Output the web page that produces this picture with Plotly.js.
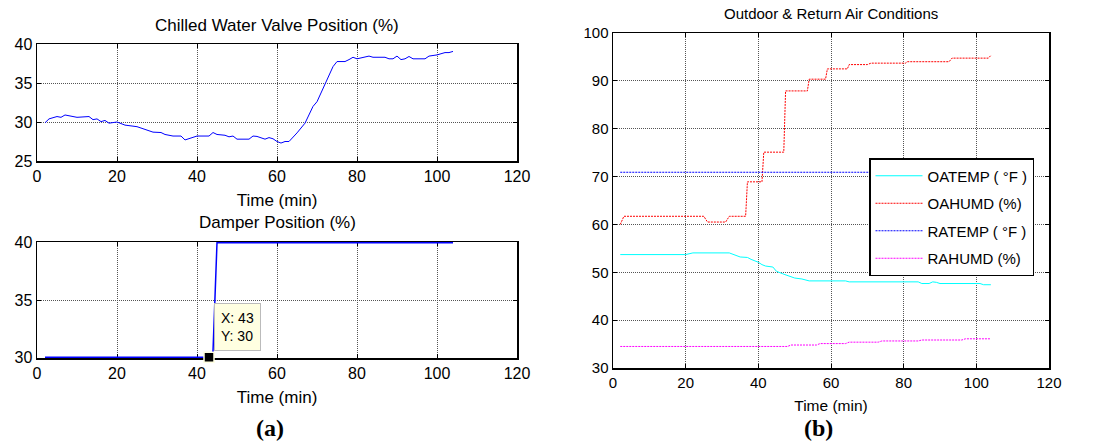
<!DOCTYPE html>
<html>
<head>
<meta charset="utf-8">
<script src="https://cdn.plot.ly/plotly-3.0.1.min.js"></script>
<style>html,body{margin:0;padding:0;background:#fff;}#chart{width:1117px;height:443px;}</style>
</head>
<body>
<div id="chart"></div>
<script>
// ---- Chilled water valve position (%) ----
var valveTime = [2,3,5,6,7,9,10,13,14,15,16,17,18,20,22,25,26,29,31,32,34,36,37,38,40,43,44,45,47,48,49,50,53,54,55,57,58,59,60,61,62,63,65,67,69,70,72,74,75,77,78,79,80,82,83,84,87,88,89,90,91,92,93,94,97,98,99,100,102,103,104];
var valvePos  = [29.9,30.4,30.7,30.6,30.9,30.75,30.6,30.7,30.3,30.4,30.05,30.2,29.85,30.0,29.6,29.4,29.2,28.7,28.65,28.4,28.2,28.2,27.7,27.9,28.2,28.2,28.65,28.4,28.3,28.1,28.2,27.8,27.8,28.2,28.15,27.8,28.0,27.85,27.5,27.3,27.5,27.5,28.6,29.85,32.0,32.6,34.8,37.1,37.75,37.75,38.0,38.3,38.1,38.3,38.45,38.3,38.3,38.1,38.1,38.45,38.0,38.1,38.4,38.1,38.1,38.45,38.55,38.6,38.9,38.9,39.05];

// ---- Damper position (%) ----
var damperTime = [2,10,20,30,40,43,44,45,60,80,104];
var damperPos  = [30,30,30,30,30,30,30.5,40,40,40,40];

// ---- Data tip ----
var tipX = [43];
var tipY = [30];

// ---- Outdoor & return air conditions ----
var oaHumdTime = [2,3,25,26,31,32,36.5,37,41,41.5,47,47.5,53.5,54,58.5,59,64.5,65,70,71,80.5,81,92.5,93.3,103.3,104];
var oaHumd     = [60.0,61.7,61.7,60.5,60.5,61.7,61.7,68.9,68.9,75.1,75.1,87.9,87.9,90.35,90.35,92.5,92.5,93.4,93.4,93.7,93.7,94.0,94.0,94.75,94.75,95.3];

var oaTempTime = [2,20,22,32,35,37,38,40,41,42,44,45,47,50,52,54,64,65,84,85,87,88,89,90,101,102,104];
var oaTemp     = [53.7,53.7,54.05,54.05,53.2,53.1,52.7,52.1,51.6,51.3,51.1,50.2,49.6,48.8,48.6,48.2,48.2,48.0,48.0,47.65,47.65,48.0,47.9,47.65,47.65,47.4,47.4];

var raTempTime = [2,104];
var raTemp     = [70.9,70.9];

var raHumdTime = [2,48,49,56,57,64,65,73,74,84,85,96,97,104];
var raHumd     = [34.5,34.5,34.8,34.8,35.1,35.1,35.4,35.4,35.65,35.65,35.85,35.85,36.1,36.1];

var xTicks = [0,20,40,60,80,100,120];

var W = 1117, H = 443;
function px(a,b){return [a/W, b/W];}
function py(top,bot){return [1-bot/H, 1-top/H];}

var FONT = 'Liberation Sans, Arial, sans-serif';

function axisBase(extra){
  var o = {
    showline:true, linecolor:'#000', linewidth:1.5, mirror:'ticks',
    ticks:'inside', ticklen:4, tickcolor:'#000',
    showgrid:true, gridcolor:'#555', griddash:'1px,1px', gridwidth:1,
    zeroline:false, layer:'below traces', fixedrange:true,
    tickfont:{family:FONT, size:16, color:'#000'}
  };
  for (var k in extra) o[k]=extra[k];
  return o;
}

var traces = [
  {x:valveTime, y:valvePos, xaxis:'x', yaxis:'y', type:'scatter', mode:'lines',
   line:{color:'#0000ff', width:1}, showlegend:false, hoverinfo:'skip'},
  {x:damperTime, y:damperPos, xaxis:'x2', yaxis:'y2', type:'scatter', mode:'lines',
   line:{color:'#0000ff', width:1.5}, showlegend:false, hoverinfo:'skip', cliponaxis:false},
  {x:tipX, y:tipY, xaxis:'x2', yaxis:'y2', type:'scatter', mode:'markers', cliponaxis:false,
   marker:{symbol:'square', size:10, color:'#000', line:{color:'#ffffe1', width:1.5}},
   showlegend:false, hoverinfo:'skip'},
  {x:oaTempTime, y:oaTemp, xaxis:'x3', yaxis:'y3', type:'scatter', mode:'lines', name:'OATEMP ( °F )',
   legendgroup:'a', line:{color:'#00ffff', width:1}},
  {x:oaHumdTime, y:oaHumd, xaxis:'x3', yaxis:'y3', type:'scatter', mode:'lines', name:'OAHUMD (%)',
   legendgroup:'b', line:{color:'#ff0000', width:1, dash:'2px,1px'}},
  {x:raTempTime, y:raTemp, xaxis:'x3', yaxis:'y3', type:'scatter', mode:'lines', name:'RATEMP ( °F )',
   legendgroup:'c', line:{color:'#0000ff', width:1, dash:'2px,1px'}},
  {x:raHumdTime, y:raHumd, xaxis:'x3', yaxis:'y3', type:'scatter', mode:'lines', name:'RAHUMD (%)',
   legendgroup:'d', line:{color:'#ff00ff', width:1, dash:'2px,1px'}}
];

var layout = {
  width:W, height:H, margin:{l:0,r:0,t:0,b:0},
  paper_bgcolor:'#fff', plot_bgcolor:'#fff',
  font:{family:FONT, color:'#000'},
  xaxis: axisBase({domain:px(37,517), anchor:'y', range:[0,120], tickvals:xTicks,
    title:{text:'Time (min)', font:{size:17}, standoff:10}}),
  yaxis: axisBase({domain:py(44,161), anchor:'x', range:[25,40], dtick:5}),
  xaxis2: axisBase({domain:px(37,517), anchor:'y2', range:[0,120], tickvals:xTicks,
    title:{text:'Time (min)', font:{size:17}, standoff:10}}),
  yaxis2: axisBase({domain:py(242,358), anchor:'x2', range:[29.94,40.06], tickvals:[30,35,40]}),
  xaxis3: axisBase({domain:px(613,1049), anchor:'y3', range:[0,120], tickvals:xTicks,
    tickfont:{family:FONT, size:15, color:'#000'},
    title:{text:'Time (min)', font:{size:15.5}, standoff:10}}),
  yaxis3: axisBase({domain:py(33,368), anchor:'x3', range:[30,100], dtick:10,
    tickfont:{family:FONT, size:15, color:'#000'}}),
  showlegend:true,
  legend:{x:869/W, y:1-158/H, xanchor:'left', yanchor:'top', bgcolor:'#fff',
    bordercolor:'#000', borderwidth:1.5, font:{family:FONT, size:15, color:'#000'},
    traceorder:'grouped', tracegroupgap:5, itemwidth:47},
  annotations:[
    {text:'Chilled Water Valve Position (%)', xref:'paper', yref:'paper', x:277/W, y:1-25/H,
     xanchor:'center', yanchor:'middle', showarrow:false, font:{size:17}},
    {text:'Damper Position (%)', xref:'paper', yref:'paper', x:277/W, y:1-222/H,
     xanchor:'center', yanchor:'middle', showarrow:false, font:{size:17}},
    {text:'Outdoor & Return Air Conditions', xref:'paper', yref:'paper', x:831/W, y:1-14/H,
     xanchor:'center', yanchor:'middle', showarrow:false, font:{size:15}},
    {text:'<b>(a)</b>', xref:'paper', yref:'paper', x:270/W, y:1-428/H,
     xanchor:'center', yanchor:'middle', showarrow:false,
     font:{family:'Liberation Serif, Times New Roman, serif', size:24}},
    {text:'<b>(b)</b>', xref:'paper', yref:'paper', x:818/W, y:0,
     xanchor:'center', yanchor:'bottom', showarrow:false,
     font:{family:'Liberation Serif, Times New Roman, serif', size:24}},
    {text:'X: '+tipX[0]+'<br>Y: '+tipY[0], xref:'x2', yref:'y2', x:tipX[0], y:tipY[0],
     xanchor:'left', yanchor:'bottom', xshift:5, yshift:6, showarrow:false, align:'left',
     bgcolor:'#ffffe1', bordercolor:'#bbbbbb', borderwidth:1, borderpad:6,
     font:{size:14, color:'#000'}}
  ]
};

Plotly.newPlot('chart', traces, layout, {staticPlot:true, displayModeBar:false});
</script>
</body>
</html>
